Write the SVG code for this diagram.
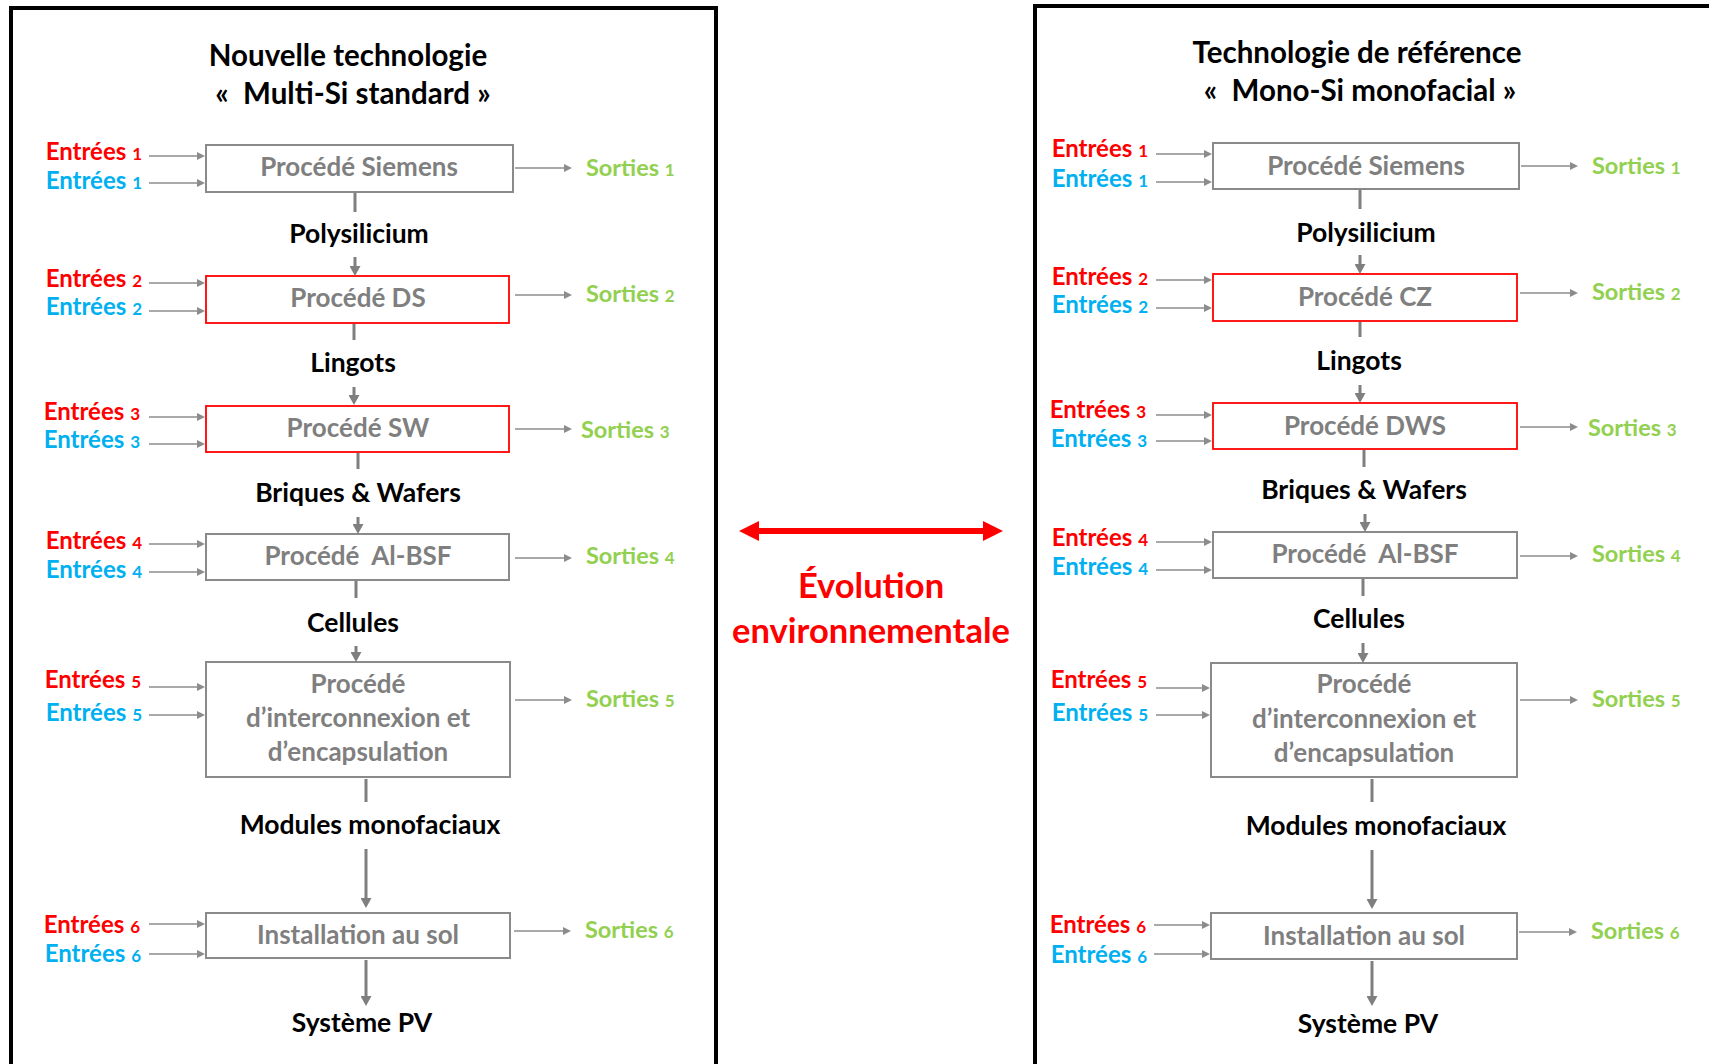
<svg xmlns="http://www.w3.org/2000/svg" width="1709" height="1064" viewBox="0 0 1709 1064">
<style>
text{font-family:Lato,"Liberation Sans",sans-serif;font-weight:bold;white-space:pre}
.title{font-size:29.5px;fill:#000;text-anchor:middle}
.lab{font-size:26.5px;fill:#000;text-anchor:middle}
.proc{font-size:26px;fill:#7f7f7f;text-anchor:middle}
.in{font-size:24px;text-anchor:end}
.out{font-size:23.5px;fill:#92d050}
.n{font-size:17px}
.red{fill:#ff0000}
.blue{fill:#00b0f0}
.evo{font-size:34.5px;fill:#ff0000;text-anchor:middle}
.box{fill:#fff;stroke:#8a8a8a;stroke-width:2}
.rbox{fill:#fff;stroke:#ff0000;stroke-width:1.8}
.panel{fill:none;stroke:#000;stroke-width:4}
.thin{stroke:#8c8c8c;stroke-width:1.4;fill:none;marker-end:url(#ah)}
.stub{stroke:#7f7f7f;stroke-width:3;fill:none}
.thick{stroke:#7f7f7f;stroke-width:3;fill:none;marker-end:url(#bh)}
</style>
<defs>
<marker id="ah" markerUnits="userSpaceOnUse" markerWidth="8" markerHeight="8" refX="3" refY="4" orient="auto"><path d="M0,0 L8,4 L0,8 z" fill="#8c8c8c"/></marker>
<marker id="bh" markerUnits="userSpaceOnUse" markerWidth="10" markerHeight="11" refX="4" refY="5.5" orient="auto"><path d="M0,0 L10,5.5 L0,11 z" fill="#7f7f7f"/></marker>
</defs>
<rect width="1709" height="1064" fill="#fff"/>
<g id="panel-left"><rect class="panel" x="11" y="8" width="705" height="1100"/></g>
<g id="panel-right"><rect class="panel" x="1035" y="6" width="720" height="1100"/></g>

<g id="title-left"><text class="title" x="348" y="66">Nouvelle technologie</text><text class="title" x="353" y="104">«  Multi-Si standard »</text></g>
<g id="title-right"><text class="title" x="1357" y="63">Technologie de référence</text><text class="title" x="1360" y="101">«  Mono-Si monofacial »</text></g>

<!-- left nodes -->
<g id="L-siemens"><rect class="box" x="206" y="145" width="307" height="47"/><text class="proc" x="359" y="176">Procédé Siemens</text></g>
<g id="L-ds"><rect class="rbox" x="206" y="276" width="303" height="47"/><text class="proc" x="358" y="307">Procédé DS</text></g>
<g id="L-sw"><rect class="rbox" x="206" y="406" width="303" height="46"/><text class="proc" x="358" y="437">Procédé SW</text></g>
<g id="L-albsf"><rect class="box" x="206" y="534" width="303" height="46"/><text class="proc" x="358" y="565">Procédé  Al-BSF</text></g>
<g id="L-encap"><rect class="box" x="206" y="662" width="304" height="115"/><text class="proc" x="358" y="693">Procédé</text><text class="proc" x="358" y="727">d’interconnexion et</text><text class="proc" x="358" y="761">d’encapsulation</text></g>
<g id="L-install"><rect class="box" x="206" y="913" width="304" height="45"/><text class="proc" x="358" y="944">Installation au sol</text></g>

<g id="L-poly"><text class="lab" x="359" y="243">Polysilicium</text></g>
<g id="L-lingots"><text class="lab" x="353" y="372">Lingots</text></g>
<g id="L-briques"><text class="lab" x="358" y="502">Briques &amp; Wafers</text></g>
<g id="L-cellules"><text class="lab" x="353" y="632">Cellules</text></g>
<g id="L-modules"><text class="lab" x="370" y="834">Modules monofaciaux</text></g>
<g id="L-systeme"><text class="lab" x="362" y="1032">Système PV</text></g>

<g id="L-inputs">
<text class="in red" x="142" y="160">Entrées <tspan class="n">1</tspan></text>
<text class="in blue" x="142" y="189">Entrées <tspan class="n">1</tspan></text>
<text class="in red" x="142" y="287">Entrées <tspan class="n">2</tspan></text>
<text class="in blue" x="142" y="315">Entrées <tspan class="n">2</tspan></text>
<text class="in red" x="140" y="420">Entrées <tspan class="n">3</tspan></text>
<text class="in blue" x="140" y="448">Entrées <tspan class="n">3</tspan></text>
<text class="in red" x="142" y="549">Entrées <tspan class="n">4</tspan></text>
<text class="in blue" x="142" y="578">Entrées <tspan class="n">4</tspan></text>
<text class="in red" x="141" y="688">Entrées <tspan class="n">5</tspan></text>
<text class="in blue" x="142" y="721">Entrées <tspan class="n">5</tspan></text>
<text class="in red" x="140" y="933">Entrées <tspan class="n">6</tspan></text>
<text class="in blue" x="141" y="962">Entrées <tspan class="n">6</tspan></text>
</g>
<g id="L-outputs">
<text class="out" x="586" y="176">Sorties <tspan class="n">1</tspan></text>
<text class="out" x="586" y="302">Sorties <tspan class="n">2</tspan></text>
<text class="out" x="581" y="438">Sorties <tspan class="n">3</tspan></text>
<text class="out" x="586" y="564">Sorties <tspan class="n">4</tspan></text>
<text class="out" x="586" y="707">Sorties <tspan class="n">5</tspan></text>
<text class="out" x="585" y="938">Sorties <tspan class="n">6</tspan></text>
</g>

<!-- right nodes -->
<g id="R-siemens"><rect class="box" x="1213" y="143" width="306" height="46"/><text class="proc" x="1366" y="175">Procédé Siemens</text></g>
<g id="R-cz"><rect class="rbox" x="1213" y="274" width="304" height="47"/><text class="proc" x="1365" y="306">Procédé CZ</text></g>
<g id="R-dws"><rect class="rbox" x="1213" y="403" width="304" height="46"/><text class="proc" x="1365" y="435">Procédé DWS</text></g>
<g id="R-albsf"><rect class="box" x="1213" y="532" width="304" height="46"/><text class="proc" x="1365" y="563">Procédé  Al-BSF</text></g>
<g id="R-encap"><rect class="box" x="1211" y="663" width="306" height="114"/><text class="proc" x="1364" y="693">Procédé</text><text class="proc" x="1364" y="728">d’interconnexion et</text><text class="proc" x="1364" y="762">d’encapsulation</text></g>
<g id="R-install"><rect class="box" x="1211" y="913" width="306" height="46"/><text class="proc" x="1364" y="945">Installation au sol</text></g>

<g id="R-poly"><text class="lab" x="1366" y="242">Polysilicium</text></g>
<g id="R-lingots"><text class="lab" x="1359" y="370">Lingots</text></g>
<g id="R-briques"><text class="lab" x="1364" y="499">Briques &amp; Wafers</text></g>
<g id="R-cellules"><text class="lab" x="1359" y="628">Cellules</text></g>
<g id="R-modules"><text class="lab" x="1376" y="835">Modules monofaciaux</text></g>
<g id="R-systeme"><text class="lab" x="1368" y="1033">Système PV</text></g>

<g id="R-inputs">
<text class="in red" x="1148" y="157">Entrées <tspan class="n">1</tspan></text>
<text class="in blue" x="1148" y="187">Entrées <tspan class="n">1</tspan></text>
<text class="in red" x="1148" y="285">Entrées <tspan class="n">2</tspan></text>
<text class="in blue" x="1148" y="313">Entrées <tspan class="n">2</tspan></text>
<text class="in red" x="1146" y="418">Entrées <tspan class="n">3</tspan></text>
<text class="in blue" x="1147" y="447">Entrées <tspan class="n">3</tspan></text>
<text class="in red" x="1148" y="546">Entrées <tspan class="n">4</tspan></text>
<text class="in blue" x="1148" y="575">Entrées <tspan class="n">4</tspan></text>
<text class="in red" x="1147" y="688">Entrées <tspan class="n">5</tspan></text>
<text class="in blue" x="1148" y="721">Entrées <tspan class="n">5</tspan></text>
<text class="in red" x="1146" y="933">Entrées <tspan class="n">6</tspan></text>
<text class="in blue" x="1147" y="963">Entrées <tspan class="n">6</tspan></text>
</g>
<g id="R-outputs">
<text class="out" x="1592" y="174">Sorties <tspan class="n">1</tspan></text>
<text class="out" x="1592" y="300">Sorties <tspan class="n">2</tspan></text>
<text class="out" x="1588" y="436">Sorties <tspan class="n">3</tspan></text>
<text class="out" x="1592" y="562">Sorties <tspan class="n">4</tspan></text>
<text class="out" x="1592" y="707">Sorties <tspan class="n">5</tspan></text>
<text class="out" x="1591" y="939">Sorties <tspan class="n">6</tspan></text>
</g>

<g id="evolution"><text class="evo" x="871" y="598">Évolution</text><text class="evo" x="871" y="643">environnementale</text></g>

<g id="connectors">
<!-- left inputs -->
<line class="thin" x1="149" y1="156" x2="200" y2="156"/>
<line class="thin" x1="149" y1="183" x2="200" y2="183"/>
<line class="thin" x1="149" y1="283" x2="200" y2="283"/>
<line class="thin" x1="149" y1="311" x2="200" y2="311"/>
<line class="thin" x1="149" y1="417" x2="200" y2="417"/>
<line class="thin" x1="149" y1="444" x2="200" y2="444"/>
<line class="thin" x1="149" y1="544" x2="200" y2="544"/>
<line class="thin" x1="149" y1="572" x2="200" y2="572"/>
<line class="thin" x1="149" y1="687" x2="200" y2="687"/>
<line class="thin" x1="149" y1="715" x2="200" y2="715"/>
<line class="thin" x1="149" y1="924" x2="200" y2="924"/>
<line class="thin" x1="149" y1="954" x2="200" y2="954"/>
<!-- left outputs -->
<line class="thin" x1="515" y1="168" x2="567" y2="168"/>
<line class="thin" x1="515" y1="295" x2="567" y2="295"/>
<line class="thin" x1="515" y1="429" x2="567" y2="429"/>
<line class="thin" x1="515" y1="558" x2="567" y2="558"/>
<line class="thin" x1="515" y1="700" x2="567" y2="700"/>
<line class="thin" x1="514" y1="931" x2="566" y2="931"/>
<!-- left vertical -->
<line class="stub" x1="355" y1="193" x2="355" y2="212"/>
<line class="thick" x1="355" y1="257" x2="355" y2="270"/>
<line class="stub" x1="354" y1="324" x2="354" y2="340"/>
<line class="thick" x1="354" y1="387" x2="354" y2="399"/>
<line class="stub" x1="358" y1="453" x2="358" y2="469"/>
<line class="thick" x1="358" y1="517" x2="358" y2="528"/>
<line class="stub" x1="356" y1="581" x2="356" y2="598"/>
<line class="thick" x1="356" y1="646" x2="356" y2="656"/>
<line class="stub" x1="366" y1="779" x2="366" y2="802"/>
<line class="thick" x1="366" y1="849" x2="366" y2="902"/>
<line class="thick" x1="366" y1="960" x2="366" y2="1000"/>
<!-- right inputs -->
<line class="thin" x1="1156" y1="154" x2="1207" y2="154"/>
<line class="thin" x1="1156" y1="182" x2="1207" y2="182"/>
<line class="thin" x1="1156" y1="280" x2="1207" y2="280"/>
<line class="thin" x1="1156" y1="308" x2="1207" y2="308"/>
<line class="thin" x1="1156" y1="415" x2="1207" y2="415"/>
<line class="thin" x1="1156" y1="441" x2="1207" y2="441"/>
<line class="thin" x1="1156" y1="542" x2="1207" y2="542"/>
<line class="thin" x1="1156" y1="570" x2="1207" y2="570"/>
<line class="thin" x1="1156" y1="688" x2="1205" y2="688"/>
<line class="thin" x1="1156" y1="715" x2="1205" y2="715"/>
<line class="thin" x1="1154" y1="925" x2="1205" y2="925"/>
<line class="thin" x1="1154" y1="954" x2="1205" y2="954"/>
<!-- right outputs -->
<line class="thin" x1="1521" y1="166" x2="1573" y2="166"/>
<line class="thin" x1="1520" y1="293" x2="1573" y2="293"/>
<line class="thin" x1="1520" y1="427" x2="1573" y2="427"/>
<line class="thin" x1="1520" y1="556" x2="1573" y2="556"/>
<line class="thin" x1="1520" y1="700" x2="1573" y2="700"/>
<line class="thin" x1="1519" y1="932" x2="1572" y2="932"/>
<!-- right vertical -->
<line class="stub" x1="1360" y1="190" x2="1360" y2="209"/>
<line class="thick" x1="1360" y1="255" x2="1360" y2="268"/>
<line class="stub" x1="1360" y1="322" x2="1360" y2="337"/>
<line class="thick" x1="1360" y1="385" x2="1360" y2="397"/>
<line class="stub" x1="1364" y1="450" x2="1364" y2="467"/>
<line class="thick" x1="1365" y1="514" x2="1365" y2="526"/>
<line class="stub" x1="1363" y1="579" x2="1363" y2="596"/>
<line class="thick" x1="1363" y1="643" x2="1363" y2="657"/>
<line class="stub" x1="1372" y1="779" x2="1372" y2="802"/>
<line class="thick" x1="1372" y1="850" x2="1372" y2="903"/>
<line class="thick" x1="1372" y1="961" x2="1372" y2="1000"/>
<!-- evolution double arrow -->
<polygon points="739,531 759,521 759,528 983,528 983,521 1003,531 983,541 983,534 759,534 759,541" fill="#ff0000"/>
</g>
</svg>
